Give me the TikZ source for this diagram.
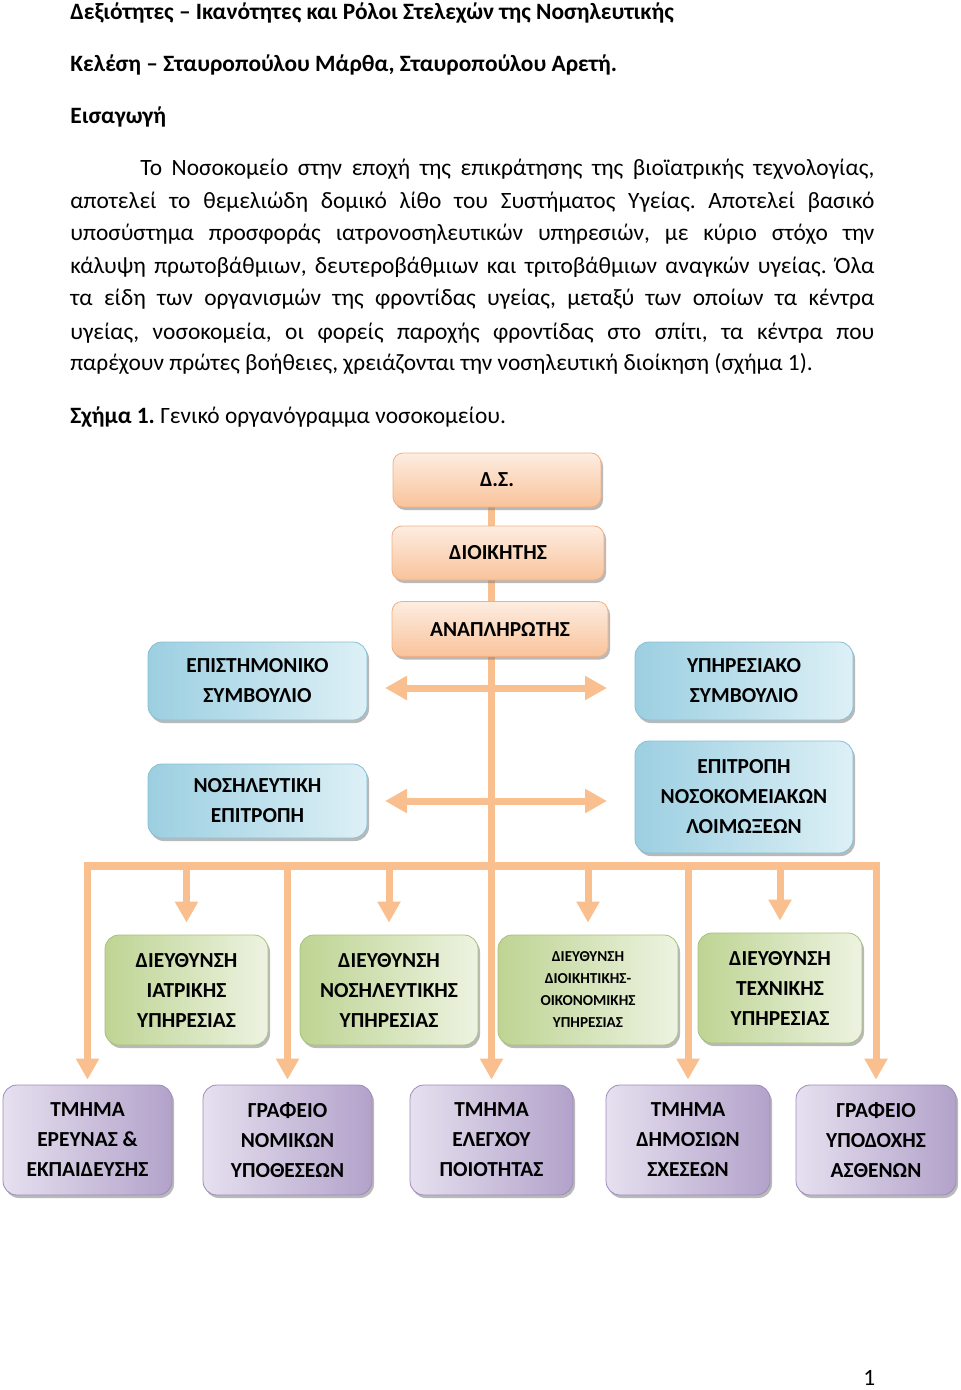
\documentclass[tikz,border=0pt]{standalone}
\usepackage{fontspec}
\setmainfont{Carlito}
\usetikzlibrary{arrows.meta,shadows,calc}
\pgfdeclarelayer{bg}
\pgfsetlayers{bg,main}
\definecolor{conn}{HTML}{F9BF8E}
\definecolor{orT}{HTML}{FDEDE1}
\definecolor{orB}{HTML}{F9C39B}
\definecolor{orD}{HTML}{F0B085}
\definecolor{blL}{HTML}{9CCFE1}
\definecolor{blR}{HTML}{DDF0F6}
\definecolor{blD}{HTML}{86BFD4}
\definecolor{grL}{HTML}{BED493}
\definecolor{grR}{HTML}{EDF3E1}
\definecolor{grD}{HTML}{A6C27A}
\definecolor{puL}{HTML}{E6E0EF}
\definecolor{puR}{HTML}{B2A2CA}
\definecolor{puD}{HTML}{9D8BBB}
\newcommand{\bodyfont}{\fontsize{11.7pt}{14pt}\selectfont\frenchspacing}
\begin{document}
\begin{tikzpicture}[x=0.5pt,y=-0.5pt,
  txt/.style={anchor=base west, inner sep=0pt, font=\bodyfont},
  boxbase/.style={rounded corners=7pt, line width=0.4pt, inner sep=0pt, align=center,
    font=\fontsize{10.7pt}{15pt}\selectfont\bfseries,
    drop shadow={shadow xshift=1pt, shadow yshift=-1.5pt, fill=black!50, opacity=0.55}},
  orbox/.style={boxbase, rounded corners=5pt, draw=orD, top color=orT, bottom color=orB},
  blbox/.style={boxbase, draw=blD, left color=blL, right color=blR},
  grbox/.style={boxbase, draw=grD, left color=grL, right color=grR},
  pubox/.style={boxbase, draw=puD, left color=puL, right color=puR},
  vline/.style={draw=conn, line width=3.5pt},
  darr/.style={draw=conn, line width=3.5pt, -{Triangle[length=10.5pt,width=11pt]}},
  dbl/.style={draw=conn, line width=3.5pt, {Triangle[length=11pt,width=11.5pt]}-{Triangle[length=11pt,width=11.5pt]}}
]
\useasboundingbox (0,0) rectangle (960,1390);

% ---------- text ----------
\node[txt] (t1) at (70,20) {\bfseries Δεξιότητες – Ικανότητες και Ρόλοι Στελεχών της Νοσηλευτικής};
\node[txt] (t2) at (70,72) {\bfseries Κελέση – Σταυροπούλου Μάρθα, Σταυροπούλου Αρετή.};
\node[txt] (t3) at (70,124) {\bfseries Εισαγωγή};
\node[txt] (l1) at (140,176) {\makebox[367pt][s]{Το Νοσοκομείο στην εποχή της επικράτησης της βιοϊατρικής τεχνολογίας,}};
\node[txt] (l2) at (70,209) {\makebox[402pt][s]{αποτελεί το θεμελιώδη δομικό λίθο του Συστήματος Υγείας. Αποτελεί βασικό}};
\node[txt] (l3) at (70,241) {\makebox[402pt][s]{υποσύστημα προσφοράς ιατρονοσηλευτικών υπηρεσιών, με κύριο στόχο την}};
\node[txt] (l4) at (70,274) {\makebox[402pt][s]{κάλυψη πρωτοβάθμιων, δευτεροβάθμιων και τριτοβάθμιων αναγκών υγείας. Όλα}};
\node[txt] (l5) at (70,306) {\makebox[402pt][s]{τα είδη των οργανισμών της φροντίδας υγείας, μεταξύ των οποίων τα κέντρα}};
\node[txt] (l6) at (70,339) {\makebox[402pt][s]{υγείας, νοσοκομεία, οι φορείς παροχής φροντίδας στο σπίτι, τα κέντρα που}};
\node[txt] (l7) at (70,371) {παρέχουν πρώτες βοήθειες, χρειάζονται την νοσηλευτική διοίκηση (σχήμα 1).};
\node[txt] (cap) at (70,423) {\textbf{Σχήμα 1.} Γενικό οργανόγραμμα νοσοκομείου.};
\node[txt] (pg) at (863,1385) {1};

% ---------- orange ----------
\node[orbox, minimum width=104pt, minimum height=27pt] (ds) at (497,480) {Δ.Σ.};
\node[orbox, minimum width=106pt, minimum height=27pt] (dioik) at (498,553) {ΔΙΟΙΚΗΤΗΣ};
\node[orbox, minimum width=108pt, minimum height=27.5pt] (anapl) at (500,629) {ΑΝΑΠΛΗΡΩΤΗΣ};

% ---------- blue ----------
\node[blbox, minimum width=109.5pt, minimum height=39pt] (ep) at (257.5,681) {ΕΠΙΣΤΗΜΟΝΙΚΟ\\ΣΥΜΒΟΥΛΙΟ};
\node[blbox, minimum width=109pt, minimum height=39pt] (yp) at (744,681) {ΥΠΗΡΕΣΙΑΚΟ\\ΣΥΜΒΟΥΛΙΟ};
\node[blbox, minimum width=109.5pt, minimum height=37pt] (ne) at (257.5,801) {ΝΟΣΗΛΕΥΤΙΚΗ\\ΕΠΙΤΡΟΠΗ};
\node[blbox, minimum width=109pt, minimum height=56pt] (enl) at (744,797) {ΕΠΙΤΡΟΠΗ\\ΝΟΣΟΚΟΜΕΙΑΚΩΝ\\ΛΟΙΜΩΞΕΩΝ};

% ---------- green ----------
\node[grbox, minimum width=81.5pt, minimum height=55pt] (g1) at (186.5,990) {ΔΙΕΥΘΥΝΣΗ\\ΙΑΤΡΙΚΗΣ\\ΥΠΗΡΕΣΙΑΣ};
\node[grbox, minimum width=89pt, minimum height=55pt] (g2) at (389,990) {ΔΙΕΥΘΥΝΣΗ\\ΝΟΣΗΛΕΥΤΙΚΗΣ\\ΥΠΗΡΕΣΙΑΣ};
\node[grbox, minimum width=90pt, minimum height=55pt, font=\fontsize{7.6pt}{11pt}\selectfont\bfseries] (g3) at (588,990) {ΔΙΕΥΘΥΝΣΗ\\ΔΙΟΙΚΗΤΙΚΗΣ-\\ΟΙΚΟΝΟΜΙΚΗΣ\\ΥΠΗΡΕΣΙΑΣ};
\node[grbox, minimum width=82pt, minimum height=55pt] (g4) at (780,988) {ΔΙΕΥΘΥΝΣΗ\\ΤΕΧΝΙΚΗΣ\\ΥΠΗΡΕΣΙΑΣ};

% ---------- purple ----------
\node[pubox, minimum width=84.5pt, minimum height=55pt] (p1) at (87.5,1140) {ΤΜΗΜΑ\\ΕΡΕΥΝΑΣ \&\\ΕΚΠΑΙΔΕΥΣΗΣ};
\node[pubox, minimum width=84.5pt, minimum height=55pt] (p2) at (287.5,1140) {ΓΡΑΦΕΙΟ\\ΝΟΜΙΚΩΝ\\ΥΠΟΘΕΣΕΩΝ};
\node[pubox, minimum width=81.5pt, minimum height=55pt] (p3) at (491.5,1140) {ΤΜΗΜΑ\\ΕΛΕΓΧΟΥ\\ΠΟΙΟΤΗΤΑΣ};
\node[pubox, minimum width=82pt, minimum height=55pt] (p4) at (688,1140) {ΤΜΗΜΑ\\ΔΗΜΟΣΙΩΝ\\ΣΧΕΣΕΩΝ};
\node[pubox, minimum width=80pt, minimum height=55pt] (p5) at (876,1140) {ΓΡΑΦΕΙΟ\\ΥΠΟΔΟΧΗΣ\\ΑΣΘΕΝΩΝ};

% ---------- coordinates ----------
\coordinate (barY) at (0,866);
\coordinate (a1l) at (385,688);
\coordinate (a1r) at (607,688);
\coordinate (a2l) at (385,801);
\coordinate (a2r) at (607,801);

% ---------- connectors ----------
\begin{pgfonlayer}{bg}
  \draw[vline] (ds.south -| p3.north) -- (anapl.south -| p3.north);
  \draw[darr, shorten >=2.5pt] (anapl.south -| p3.north) -- (p3.north);
  \draw[vline, line width=4pt, line cap=rect] (p1.north |- barY) -- (p5.north |- barY);
  \draw[darr, shorten >=2.5pt] (p1.north |- barY) -- (p1.north);
  \draw[darr, shorten >=2.5pt] (p2.north |- barY) -- (p2.north);
  \draw[darr, shorten >=2.5pt] (p4.north |- barY) -- (p4.north);
  \draw[darr, shorten >=2.5pt] (p5.north |- barY) -- (p5.north);
  \draw[darr, shorten >=6pt] (g1.north |- barY) -- (g1.north);
  \draw[darr, shorten >=6pt] (g2.north |- barY) -- (g2.north);
  \draw[darr, shorten >=6pt] (g3.north |- barY) -- (g3.north);
  \draw[darr, shorten >=6pt] (g4.north |- barY) -- (g4.north);
  \draw[dbl] (a1l) -- (a1r);
  \draw[dbl] (a2l) -- (a2r);
\end{pgfonlayer}
\end{tikzpicture}
\end{document}
